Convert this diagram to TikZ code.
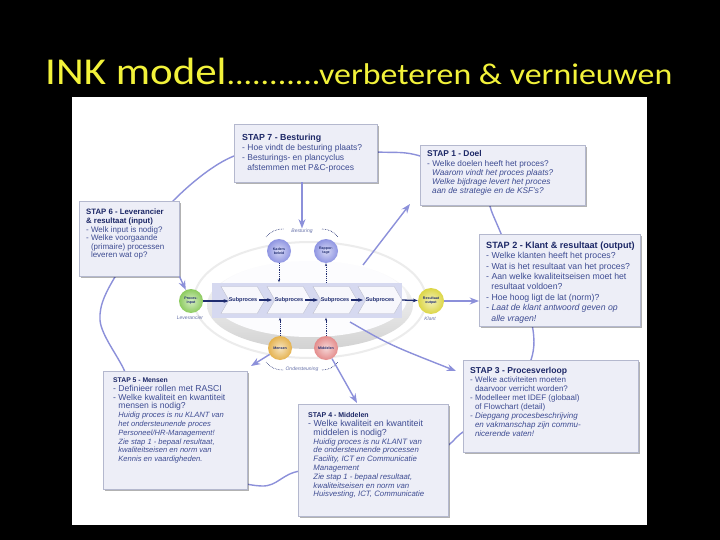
\documentclass[tikz,border=0pt]{standalone}
\usepackage{fontspec}
\setmainfont{Liberation Sans}
\newfontfamily\titlefont{Carlito}
\usetikzlibrary{arrows.meta,shadows,shapes.symbols}

\definecolor{inkyellow}{HTML}{F2F23A}
\definecolor{boxfill}{HTML}{EDEEF7}
\definecolor{boxline}{HTML}{B4B8CE}
\definecolor{stapnavy}{HTML}{1C2766}
\definecolor{staptxt}{HTML}{3E4C92}
\definecolor{cyclelav}{HTML}{8C90DA}
\definecolor{bandlav}{HTML}{D6D9F0}
\definecolor{procnavy}{HTML}{1F2C70}
\definecolor{ballgreen}{HTML}{8CCB5E}
\definecolor{ballyellow}{HTML}{DCD645}
\definecolor{ballblue}{HTML}{8F95E2}
\definecolor{ballorange}{HTML}{E5B24E}
\definecolor{ballpink}{HTML}{E48C8C}

\newcommand{\stapfont}[2]{\fontsize{#1}{#2}\selectfont}
\newcommand{\ind}{\hspace*{0.6em}}
\newcommand{\staptitle}[2]{{\bfseries\color{stapnavy}\stapfont{#1}{#1}#2}}

\begin{document}
\begin{tikzpicture}[x=1pt, y=-1pt, >=Stealth,
  stapbox/.style={draw=boxline, fill=boxfill, anchor=north west, inner sep=0pt,
    drop shadow={shadow xshift=1.5pt, shadow yshift=-1.5pt, fill=black, opacity=.3}},
  staptext/.style={anchor=north west, inner sep=0pt, align=left, text=staptxt},
  cycleline/.style={draw=cyclelav, line width=1.4pt},
  procball/.style={circle, minimum size=24pt, inner sep=0pt, inner color=#1!35!white,
    outer color=#1, text=procnavy, font=\bfseries\stapfont{3.6}{4}, align=center},
  subproc/.style={signal, signal from=west, signal to=east, signal pointer angle=120,
    minimum width=44pt, minimum height=27pt, inner sep=0pt, fill=white!80!bandlav,
    draw=bandlav!70!gray, font=\bfseries\stapfont{5.5}{6}, text=procnavy},
  flowarrow/.style={->, draw=procnavy, line width=1.3pt, >={Stealth[length=5pt]}},
  dotarrow/.style={->, densely dotted, draw=procnavy, line width=.8pt, >={Stealth[length=3pt]}},
  sidelabel/.style={font=\itshape\stapfont{5}{6}, text=staptxt!80, inner sep=0pt}
]
% Achtergrond en titel
\fill[black] (0,0) rectangle (720,540);
\useasboundingbox (0,0) rectangle (720,540);
\node[anchor=base west, inner sep=0pt, text=inkyellow, xscale=1.13] (title) at (45,85)
  {\titlefont{\stapfont{38}{40}INK model}{\stapfont{30}{32}...........verbeteren \& vernieuwen}};
\fill[white] (72,97) rectangle (647,525);

% Cyclus rond de stappen
\draw[cycleline] plot[smooth cycle, tension=0.55] coordinates {
  (300,150) (377,152) (420,156) (478,184) (493,215) (512,262) (533,330) (528,368)
  (500,410) (463,432) (440,450) (380,468) (300,471) (262,486) (200,468) (140,418)
  (125,372) (100,320) (118,272) (174,200) (234,156)};

% Stappen
\node[stapbox, minimum width=143pt, minimum height=58pt] (stap7) at (234,124) {};
\node[staptext, font=\stapfont{8.5}{10}] (stap7t) at (242,134) {%
  \staptitle{8.8}{STAP 7 - Besturing}\\
  - Hoe vindt de besturing plaats?\\
  - Besturings- en plancyclus\\
  \ind afstemmen met P\&C-proces};

\node[stapbox, minimum width=165pt, minimum height=60pt] (stap1) at (420,145) {};
\node[staptext, font=\stapfont{8.3}{9}] (stap1t) at (427,150) {%
  \staptitle{8.4}{STAP 1 - Doel}\\[1.5pt]
  - Welke doelen heeft het proces?\\
  \ind\textit{Waarom vindt het proces plaats?}\\
  \ind\textit{Welke bijdrage levert het proces}\\
  \ind\textit{aan de strategie en de KSF's?}};

\node[stapbox, minimum width=100pt, minimum height=75pt] (stap6) at (79,201) {};
\node[staptext, font=\stapfont{8}{8.6}] (stap6t) at (86,209) {%
  \staptitle{7.8}{STAP 6 - Leverancier}\\
  \staptitle{7.8}{\& resultaat (input)}\\
  - Welk input is nodig?\\
  - Welke voorgaande\\
  \ind(primaire) processen\\
  \ind leveren wat op?};

\node[stapbox, minimum width=161pt, minimum height=92pt] (stap2) at (479,234) {};
\node[staptext, font=\stapfont{8.7}{10.4}] (stap2t) at (486,241.5) {%
  \staptitle{9.1}{STAP 2 - Klant \& resultaat (output)}\\
  - Welke klanten heeft het proces?\\
  - Wat is het resultaat van het proces?\\
  - Aan welke kwaliteitseisen moet het\\
  \ind resultaat voldoen?\\
  - Hoe hoog ligt de lat (norm)?\\
  \textit{- Laat de klant antwoord geven op}\\
  \ind\textit{alle vragen!}};

\node[stapbox, minimum width=175pt, minimum height=92pt] (stap3) at (463,360) {};
\node[staptext, font=\stapfont{8}{9}] (stap3t) at (470,367) {%
  \staptitle{8.6}{STAP 3 - Procesverloop}\\
  - Welke activiteiten moeten\\
  \ind daarvoor verricht worden?\\
  - Modelleer met IDEF (globaal)\\
  \ind of Flowchart (detail)\\
  \textit{- Diepgang procesbeschrijving}\\
  \ind\textit{en vakmanschap zijn commu-}\\
  \ind\textit{nicerende vaten!}};

\node[stapbox, minimum width=144pt, minimum height=118pt] (stap5) at (103,371) {};
\node[staptext, font=\stapfont{8.6}{8.8}] (stap5t) at (113,377.5) {%
  \staptitle{6.8}{STAP 5 - Mensen}\\
  - Definieer rollen met RASCI\\
  - Welke kwaliteit en kwantiteit\\
  \ind mensen is nodig?\\
  \ind{\itshape\stapfont{7.6}{8.8}Huidig proces is nu KLANT van}\\
  \ind{\itshape\stapfont{7.6}{8.8}het ondersteunende proces}\\
  \ind{\itshape\stapfont{7.6}{8.8}Personeel/HR-Management!}\\
  \ind{\itshape\stapfont{7.6}{8.8}Zie stap 1 - bepaal resultaat,}\\
  \ind{\itshape\stapfont{7.6}{8.8}kwaliteitseisen en norm van}\\
  \ind{\itshape\stapfont{7.6}{8.8}Kennis en vaardigheden.}};

\node[stapbox, minimum width=150pt, minimum height=112pt] (stap4) at (298,404) {};
\node[staptext, font=\stapfont{8.8}{8.8}] (stap4t) at (308,412.5) {%
  \staptitle{7}{STAP 4 - Middelen}\\
  - Welke kwaliteit en kwantiteit\\
  \ind middelen is nodig?\\
  \ind{\itshape\stapfont{7.8}{8.8}Huidig proces is nu KLANT van}\\
  \ind{\itshape\stapfont{7.8}{8.8}de ondersteunende processen}\\
  \ind{\itshape\stapfont{7.8}{8.8}Facility, ICT en Communicatie}\\
  \ind{\itshape\stapfont{7.8}{8.8}Management}\\
  \ind{\itshape\stapfont{7.8}{8.8}Zie stap 1 - bepaal resultaat,}\\
  \ind{\itshape\stapfont{7.8}{8.8}kwaliteitseisen en norm van}\\
  \ind{\itshape\stapfont{7.8}{8.8}Huisvesting, ICT, Communicatie}};

% Procesmodel in het midden
\draw[gray!15, line width=2pt] (310,300) ellipse [x radius=116, y radius=58];
\shade[top color=white, bottom color=gray!35] (310,305) ellipse [x radius=103, y radius=44];
\fill[white!92!bandlav] (310,299) ellipse [x radius=97, y radius=38];
\node[fill=bandlav, minimum width=190pt, minimum height=35pt, inner sep=0pt] (band) at (307,300) {};
\node[subproc] (sub1) at (243,300) {Subproces};
\node[subproc] (sub2) at (289,300) {Subproces};
\node[subproc] (sub3) at (335,300) {Subproces};
\node[subproc] (sub4) at (380,300) {Subproces};
\draw[flowarrow, shorten <=16pt, shorten >=17pt] (sub1.center) -- (sub2.center);
\draw[flowarrow, shorten <=16pt, shorten >=17pt] (sub2.center) -- (sub3.center);
\draw[flowarrow, shorten <=16pt, shorten >=17pt] (sub3.center) -- (sub4.center);

\node[procball=ballgreen] (input) at (191,301) {Proces-\\input};
\node[procball=ballyellow, minimum size=26pt] (output) at (431,301) {Resultaat\\output};
\node[procball=ballblue] (kaders) at (279,251) {Kaders\\beleid};
\node[procball=ballblue] (rapport) at (326,251) {Rappor-\\tage};
\node[procball=ballorange] (mensen) at (280,348) {Mensen};
\node[procball=ballpink] (middelen) at (326,348) {Middelen};

\draw[flowarrow] (input) -- (input -| sub1.west);
\draw[flowarrow] (band.east) -- (output);
\draw[dotarrow] (kaders) -- (kaders |- band.north);
\draw[dotarrow] (rapport |- band.north) -- (rapport);
\draw[dotarrow] (mensen) -- (mensen |- band.south);
\draw[dotarrow] (middelen) -- (middelen |- band.south);

\node[sidelabel] (besturing) at (302,231) {Besturing};
\node[sidelabel] (ondersteuning) at (302,369) {Ondersteuning};
\node[sidelabel] (leverancier) at (190,318) {Leverancier};
\node[sidelabel] (klant) at (430,319) {Klant};
\draw[densely dotted, procnavy, line width=.6pt] (266,237) to[bend left=25] (284,229);
\draw[densely dotted, procnavy, line width=.6pt] (322,229) to[bend left=25] (338,237);
\draw[densely dotted, procnavy, line width=.6pt] (266,362) to[bend right=25] (283,370);
\draw[densely dotted, procnavy, line width=.6pt] (322,370) to[bend right=25] (338,362);

% Verbindingen naar de stappen
\coordinate (discne) at (363,265);
\coordinate (discse) at (350,322);
\coordinate (s1in) at (410,204);
\coordinate (s3in) at (456,371);
\coordinate (s4in) at (357,403);
\coordinate (s5in) at (251,366);
\draw[cycleline, ->] (discne) -- (s1in);
\draw[cycleline, ->] (output) -- (output -| stap2.west);
\draw[cycleline, ->] (discse) .. controls (390,345) .. (s3in);
\draw[cycleline, ->] (middelen) -- (s4in);
\draw[cycleline, ->] (mensen) -- (s5in);
\draw[cycleline, ->] (stap6.south east) -- (input);
\draw[cycleline, ->] (stap7.south -| besturing) -- (besturing);
\end{tikzpicture}
\end{document}
